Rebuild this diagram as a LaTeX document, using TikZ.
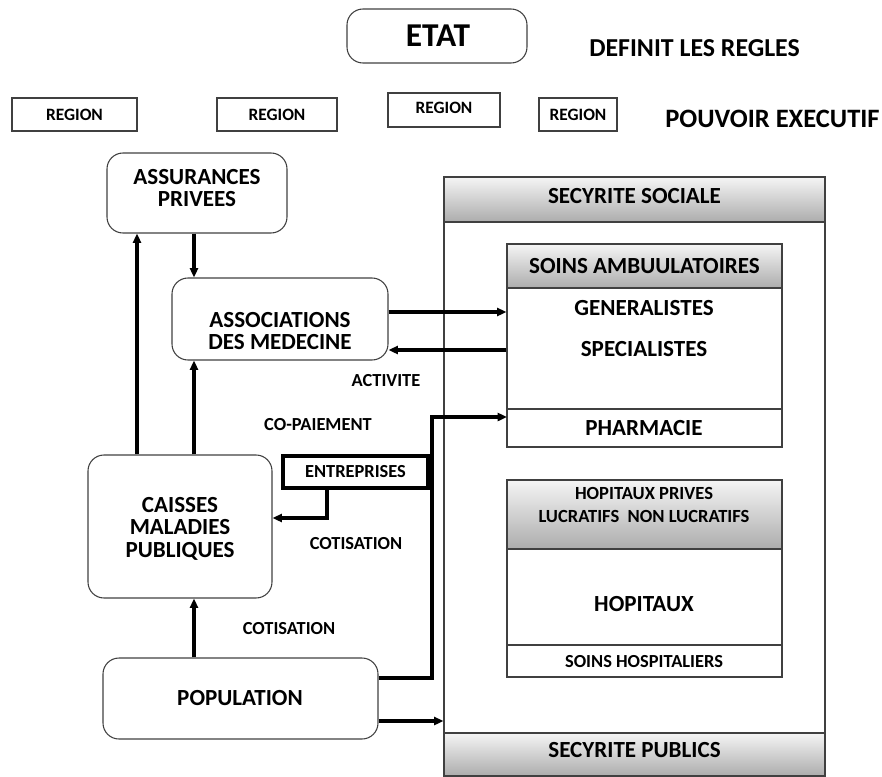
\documentclass[tikz,border=0pt]{standalone}
\usepackage{fontspec}
\setmainfont{Carlito}
\usetikzlibrary{arrows.meta,fit,calc}
\begin{document}
\begin{tikzpicture}[x=0.75pt,y=-0.75pt,
  box/.style={draw=black!75,line width=0.8pt,inner sep=0pt},
  rbox/.style={box,rounded corners=12pt},
  head/.style={box,top color=gray!8,bottom color=gray!65},
  txt/.style={font=\bfseries\fontsize{13.8}{16}\selectfont,align=center,inner sep=0pt},
  big/.style={font=\bfseries\fontsize{17.3}{16.8}\selectfont,align=center,inner sep=0pt},
  small/.style={font=\bfseries\fontsize{13}{15}\selectfont,align=center,inner sep=0pt},
  arr/.style={line width=2.5pt,-{Triangle[length=7pt,width=6pt]}}]
\useasboundingbox (0,0) rectangle (882,776);

% top level
\node[rbox,fit={(347,9) (527,63)}] (etat) {};
\node[font=\bfseries\fontsize{25}{28}\selectfont,inner sep=0pt] at (438,36) {ETAT};
\node[font=\bfseries\fontsize{19.4}{22}\selectfont,inner sep=0pt,anchor=west] (regles) at (589,48) {DEFINIT LES REGLES};

% regions
\node[box,fit={(12,98) (137,131)}] (r1) {};
\node[small] at (r1) {REGION};
\node[box,fit={(217,98) (337,131)}] (r2) {};
\node[small] at (r2) {REGION};
\node[box,fit={(388,93) (500,127)}] (r3) {};
\node[small] at ($(r3)+(0,-2)$) {REGION};
\node[box,fit={(539,98) (617,131)}] (r4) {};
\node[small] at (r4) {REGION};
\node[font=\bfseries\fontsize{19.9}{22}\selectfont,inner sep=0pt,anchor=west] (exec) at (665,119) {POUVOIR EXECUTIF};

% left column
\node[rbox,fit={(107,153) (287,233)}] (assur) {};
\node[big] at ($(assur)+(0,-5)$) {ASSURANCES\\PRIVEES};
\node[rbox,fit={(172,278) (388,360)}] (assoc) {};
\node[big] at ($(assoc)+(0,12)$) {ASSOCIATIONS\\DES MEDECINE};
\node[rbox,fit={(88,455) (272,598)}] (caisse) {};
\node[big] at ($(caisse)+(0,2)$) {CAISSES\\MALADIES\\PUBLIQUES};
\node[box,draw=black,line width=2.6pt,fit={(283,456) (428,488)}] (entr) {};
\node[txt] at (entr) {ENTREPRISES};
\node[rbox,fit={(103,658) (378,739)}] (pop) {};
\node[big] at (240,698) {POPULATION};

% labels on the flows
\node[txt] (lact) at (386,381) {ACTIVITE};
\node[txt] (lcop) at (318,425) {CO-PAIEMENT};
\node[txt] (lcot1) at (356,544) {COTISATION};
\node[txt] (lcot2) at (289,629) {COTISATION};

% social security block
\node[box,fit={(444,177) (825,776)}] (secu) {};
\node[head,fit={(444,177) (825,222)}] (hsoc) {};
\node[big] at ($(hsoc)+(0,-3)$) {SECYRITE SOCIALE};
\node[head,fit={(444,733) (825,776)}] (hpub) {};
\node[big] at ($(hpub)+(0,-4)$) {SECYRITE PUBLICS};

\node[head,fit={(507,244) (782,288)}] (hamb) {};
\node[big] at (hamb) {SOINS AMBUULATOIRES};
\node[box,fit={(507,288) (782,447)}] (amb) {};
\draw[black!75,line width=0.8pt] (507,409) -- (782,409);
\node[big] (gen) at (644,308) {GENERALISTES};
\node[big] (spec) at (644,349) {SPECIALISTES};
\node[big] (pharm) at (644,428) {PHARMACIE};
\coordinate (ph) at (507,417);

\node[head,fit={(507,480) (782,549)}] (hhop) {};
\node[font=\bfseries\fontsize{13.9}{17.5}\selectfont,align=center,inner sep=0pt] at (644,505) {HOPITAUX PRIVES\\LUCRATIFS\ \ NON LUCRATIFS};
\node[box,fit={(507,549) (782,677)}] (hop) {};
\draw[black!75,line width=0.8pt] (507,645) -- (782,645);
\node[big] at (644,604) {HOPITAUX};
\node[font=\bfseries\fontsize{13.8}{16}\selectfont,inner sep=0pt] at (644,662) {SOINS HOSPITALIERS};

% connectors
\coordinate (xa) at (137,0);
\coordinate (xb) at (194,0);
\draw[arr] (xb |- assur.south) -- (xb |- assoc.north);
\draw[arr] (xa |- caisse.north) -- (xa |- assur.south);
\draw[arr] (xb |- caisse.north) -- (xb |- assoc.south);
\draw[arr] (xb |- pop.north) -- (xb |- caisse.south);
\coordinate (y1) at (0,312);
\coordinate (y2) at (0,350);
\draw[arr] (assoc.east |- y1) -- (amb.west |- y1);
\draw[arr] (amb.west |- y2) -- (assoc.east |- y2);
\coordinate (ye) at (0,518);
\draw[arr] (327,488) |- (caisse.east |- ye);
\coordinate (yp) at (0,678);
\draw[arr] (pop.east |- yp) -- (432,678) |- (ph);
\coordinate (yq) at (0,721);
\draw[arr] (pop.east |- yq) -- (secu.west |- yq);
\end{tikzpicture}
\end{document}
